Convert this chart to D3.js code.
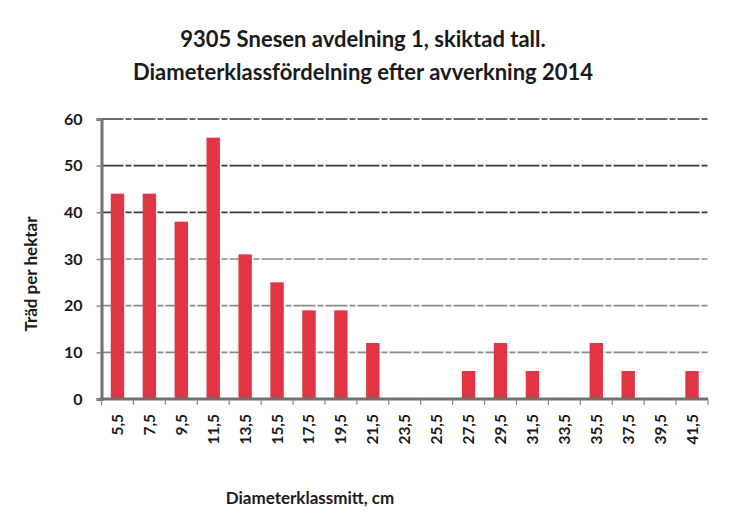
<!DOCTYPE html>
<html>
<head>
<meta charset="utf-8">
<script src="https://cdnjs.cloudflare.com/ajax/libs/d3/7.8.5/d3.min.js"></script>
<style>
  body { margin: 0; background: #fff; }
  svg text { font-family: Lato, "Open Sans", sans-serif; font-weight: bold; fill: #1a1a1a; }
</style>
</head>
<body>
<div id="chart"></div>
<script>
// diameter class midpoints (cm) and trees per hectare
var classes = ["5,5", "7,5", "9,5", "11,5", "13,5", "15,5", "17,5", "19,5", "21,5", "23,5",
               "25,5", "27,5", "29,5", "31,5", "33,5", "35,5", "37,5", "39,5", "41,5"];
var treesPerHa = [44, 44, 38, 56, 31, 25, 19, 19, 12, 0, 0, 6, 12, 6, 0, 12, 6, 0, 6];
var yTicks = [0, 10, 20, 30, 40, 50, 60];
var titleLines = ["9305 Snesen avdelning 1, skiktad tall.",
                  "Diameterklassfördelning efter avverkning 2014"];

var width = 740, height = 530;
var margin = {top: 119, right: 32, bottom: 131, left: 101.5};
var plotW = width - margin.left - margin.right,
    plotH = height - margin.top - margin.bottom;

var svg = d3.select("#chart").append("svg")
    .attr("width", width).attr("height", height);

var x = d3.scaleBand().domain(classes).range([0, plotW]).paddingInner(0.58).paddingOuter(0.29);
var xb = d3.scaleBand().domain(classes).range([0, plotW]); // for tick boundaries
var y = d3.scaleLinear().domain([0, 60]).range([plotH, 0]);

var g = svg.append("g").attr("transform", "translate(" + margin.left + "," + margin.top + ")");

// gridlines
g.selectAll("line.grid").data(yTicks.filter(function (d) { return d > 0; }))
  .enter().append("line")
    .attr("class", "grid")
    .attr("x1", 0).attr("x2", plotW)
    .attr("y1", function (d) { return y(d); })
    .attr("y2", function (d) { return y(d); })
    .attr("stroke", function (d) { return d >= 40 ? "#3a3a3a" : "#8a8a8a"; })
    .attr("stroke-width", 1.6)
    .attr("stroke-dasharray", "22,2,6,2");

// bars
g.selectAll("rect.bar").data(treesPerHa)
  .enter().append("rect")
    .attr("class", "bar")
    .attr("x", function (d, i) { return x(classes[i]); })
    .attr("width", x.bandwidth())
    .attr("y", function (d) { return y(d); })
    .attr("height", function (d) { return plotH - y(d); })
    .attr("fill", "#e03545");

// y axis
var yAxis = g.append("g").call(d3.axisLeft(y).tickValues(yTicks).tickSize(5).tickPadding(14));
yAxis.select(".domain").attr("stroke", "#707070").attr("stroke-width", 3);
yAxis.selectAll(".tick line").attr("stroke", "#888").attr("stroke-width", 1.5);
yAxis.selectAll(".tick text").style("font-size", "16px").attr("fill", "#1a1a1a");

// x axis with ticks on band boundaries
var xAxisG = g.append("g").attr("transform", "translate(0," + plotH + ")");
xAxisG.append("line").attr("x1", -1.5).attr("x2", plotW)
    .attr("stroke", "#707070").attr("stroke-width", 3);
xAxisG.selectAll("line.tk").data(classes.concat(["end"]))
  .enter().append("line")
    .attr("class", "tk")
    .attr("x1", function (d, i) { return i * xb.bandwidth(); })
    .attr("x2", function (d, i) { return i * xb.bandwidth(); })
    .attr("y1", 0).attr("y2", 6)
    .attr("stroke", "#888").attr("stroke-width", 1.2);
xAxisG.selectAll("text.lbl").data(classes)
  .enter().append("text")
    .attr("class", "lbl")
    .attr("transform", function (d) {
      return "translate(" + (xb(d) + xb.bandwidth() / 2 + 5.5) + ",15) rotate(-90)";
    })
    .attr("text-anchor", "end")
    .style("font-size", "15.5px")
    .text(function (d) { return d; });

// titles
svg.selectAll("text.title").data(titleLines)
  .enter().append("text")
    .attr("class", "title")
    .attr("x", 363)
    .attr("y", function (d, i) { return 47 + i * 33; })
    .attr("text-anchor", "middle")
    .style("font-size", "22px")
    .text(function (d) { return d; });

svg.append("text")
    .attr("transform", "translate(37,274) rotate(-90)")
    .attr("text-anchor", "middle")
    .style("font-size", "17px")
    .text("Träd per hektar");

svg.append("text")
    .attr("x", 310).attr("y", 504)
    .attr("text-anchor", "middle")
    .style("font-size", "17px")
    .text("Diameterklassmitt, cm");
</script>
</body>
</html>
